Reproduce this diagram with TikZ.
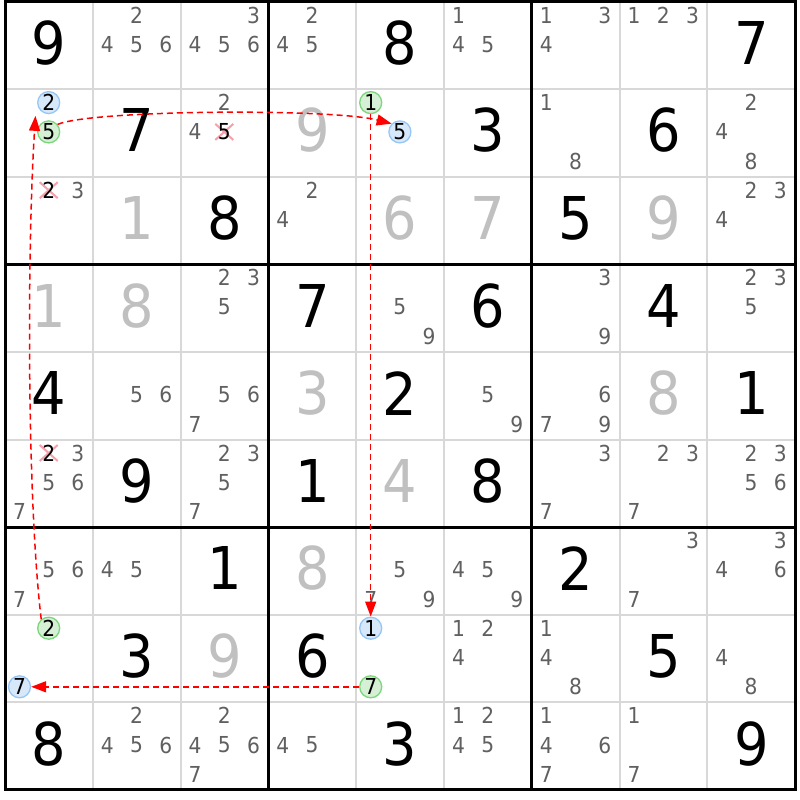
\documentclass[tikz,border=0pt]{standalone}
\usepackage{fontspec}
\setmainfont{DejaVu Sans}
\newfontfamily\digfam{DejaVu Sans}[FakeStretch=0.92]
\usetikzlibrary{arrows.meta}
\definecolor{candgray}{RGB}{96,96,96}
\definecolor{solvgray}{RGB}{192,192,192}
\definecolor{gridgray}{RGB}{216,216,216}
\definecolor{bluefill}{RGB}{214,232,250}
\definecolor{bluedraw}{RGB}{150,198,245}
\definecolor{greenfill}{RGB}{213,240,213}
\definecolor{greendraw}{RGB}{125,214,125}
\definecolor{crosspink}{RGB}{245,160,170}
\definecolor{chainred}{RGB}{255,0,0}
\newcommand\bigdigfont{\digfam\fontsize{59}{59}\selectfont}
\newcommand\canddigfont{\digfam\fontsize{22}{22}\selectfont}
\tikzset{
  givenstyle/.style={font=\bigdigfont, inner sep=0pt, text=black},
  solvedstyle/.style={givenstyle, text=solvgray},
  candstyle/.style={font=\canddigfont, inner sep=0pt, text=candgray},
  crossstyle/.style={draw=crosspink, line width=2pt},
  bluecirc/.style={circle, draw=bluedraw, fill=bluefill, line width=1.3pt, minimum size=22pt, inner sep=0pt, font=\canddigfont, text=black},
  greencirc/.style={bluecirc, draw=greendraw, fill=greenfill},
  chain/.style={draw=chainred, line width=1.5pt, dash pattern=on 6pt off 4pt, -{Triangle[length=15pt,width=11pt]}},
  thinline/.style={draw=gridgray, line width=2pt},
  thickline/.style={draw=black, line width=3pt},
}
\newcommand\givd[3]{\node[givenstyle] (v#1#2) at ({5+(#2-0.5)*87.8},{1.5+(#1-0.5)*87.6-2.5}) {#3};}
\newcommand\solv[3]{\node[solvedstyle] (v#1#2) at ({5+(#2-0.5)*87.8},{1.5+(#1-0.5)*87.6-2.5}) {#3};}
\newcommand\candpos[3]{%
  \pgfmathsetmacro\cpx{5+(#2-1)*87.8+14.5+29.2*mod(#3-1,3)}%
  \pgfmathsetmacro\cpy{1.5+(#1-1)*87.6+13.5+29.3*floor((#3-1)/3)}}
\newcommand\cands[3]{\foreach \dd in {#3}{\candpos{#1}{#2}{\dd}\node[candstyle] (c#1#2\dd) at (\cpx,\cpy) {\dd};}}
\newcommand\xcand[3]{\candpos{#1}{#2}{#3}%
  \draw[crossstyle] (\cpx-9,\cpy-8) -- (\cpx+9,\cpy+8) (\cpx-9,\cpy+8) -- (\cpx+9,\cpy-8);%
  \node[candstyle,text=black] (c#1#2#3) at (\cpx,\cpy) {#3};}
\newcommand\circcand[5]{\candpos{#1}{#2}{#3}\node[#4] (#5) at (\cpx,\cpy) {#3};}
\begin{document}
\begin{tikzpicture}[x=1pt,y=-1pt]
\fill[white] (0,0) rectangle (800,800);
\useasboundingbox (0,0) rectangle (800,800);
\foreach \i in {1,2,4,5,7,8}{
  \draw[thinline] ({5+\i*87.8},1.5) -- ({5+\i*87.8},789.9);
  \draw[thinline] (5,{1.5+\i*87.6}) -- (795.2,{1.5+\i*87.6});
}
\foreach \i in {3,6}{
  \draw[thickline] ({5+\i*87.8},1.5) -- ({5+\i*87.8},789.9);
  \draw[thickline] (5,{1.5+\i*87.6}) -- (795.2,{1.5+\i*87.6});
}
\draw[thickline] (5,1.5) rectangle (795.2,789.9);
% row 1
\givd{1}{1}{9} \cands{1}{2}{2,4,5,6} \cands{1}{3}{3,4,5,6} \cands{1}{4}{2,4,5} \givd{1}{5}{8}
\cands{1}{6}{1,4,5} \cands{1}{7}{1,3,4} \cands{1}{8}{1,2,3} \givd{1}{9}{7}
% row 2
\circcand{2}{1}{2}{bluecirc}{bA} \circcand{2}{1}{5}{greencirc}{gA} \givd{2}{2}{7}
\cands{2}{3}{2,4} \xcand{2}{3}{5} \solv{2}{4}{9}
\circcand{2}{5}{1}{greencirc}{gB} \circcand{2}{5}{5}{bluecirc}{bB} \givd{2}{6}{3}
\cands{2}{7}{1,8} \givd{2}{8}{6} \cands{2}{9}{2,4,8}
% row 3
\xcand{3}{1}{2} \cands{3}{1}{3} \solv{3}{2}{1} \givd{3}{3}{8} \cands{3}{4}{2,4}
\solv{3}{5}{6} \solv{3}{6}{7} \givd{3}{7}{5} \solv{3}{8}{9} \cands{3}{9}{2,3,4}
% row 4
\solv{4}{1}{1} \solv{4}{2}{8} \cands{4}{3}{2,3,5} \givd{4}{4}{7} \cands{4}{5}{5,9}
\givd{4}{6}{6} \cands{4}{7}{3,9} \givd{4}{8}{4} \cands{4}{9}{2,3,5}
% row 5
\givd{5}{1}{4} \cands{5}{2}{5,6} \cands{5}{3}{5,6,7} \solv{5}{4}{3} \givd{5}{5}{2}
\cands{5}{6}{5,9} \cands{5}{7}{6,7,9} \solv{5}{8}{8} \givd{5}{9}{1}
% row 6
\xcand{6}{1}{2} \cands{6}{1}{3,5,6,7} \givd{6}{2}{9} \cands{6}{3}{2,3,5,7} \givd{6}{4}{1}
\solv{6}{5}{4} \givd{6}{6}{8} \cands{6}{7}{3,7} \cands{6}{8}{2,3,7} \cands{6}{9}{2,3,5,6}
% row 7
\cands{7}{1}{5,6,7} \cands{7}{2}{4,5} \givd{7}{3}{1} \solv{7}{4}{8} \cands{7}{5}{5,7,9}
\cands{7}{6}{4,5,9} \givd{7}{7}{2} \cands{7}{8}{3,7} \cands{7}{9}{3,4,6}
% row 8
\circcand{8}{1}{2}{greencirc}{gC} \circcand{8}{1}{7}{bluecirc}{bC} \givd{8}{2}{3} \solv{8}{3}{9}
\givd{8}{4}{6} \circcand{8}{5}{1}{bluecirc}{bD} \circcand{8}{5}{7}{greencirc}{gD}
\cands{8}{6}{1,2,4} \cands{8}{7}{1,4,8} \givd{8}{8}{5} \cands{8}{9}{4,8}
% row 9
\givd{9}{1}{8} \cands{9}{2}{2,4,5,6} \cands{9}{3}{2,4,5,6,7} \cands{9}{4}{4,5} \givd{9}{5}{3}
\cands{9}{6}{1,2,4,5} \cands{9}{7}{1,4,6,7} \cands{9}{8}{1,7} \givd{9}{9}{9}
% chains
\draw[chain] (gC.130) .. controls (27,500) and (27,250) .. ([xshift=-5pt,yshift=-5pt]bA.225);
\draw[chain] (gA.40) .. controls (90,110) and (330,108) .. (bB.135);
\draw[chain] (gB.south) -- (bD.north);
\draw[chain] (gD.west) -- (bC.east);
\end{tikzpicture}
\end{document}
